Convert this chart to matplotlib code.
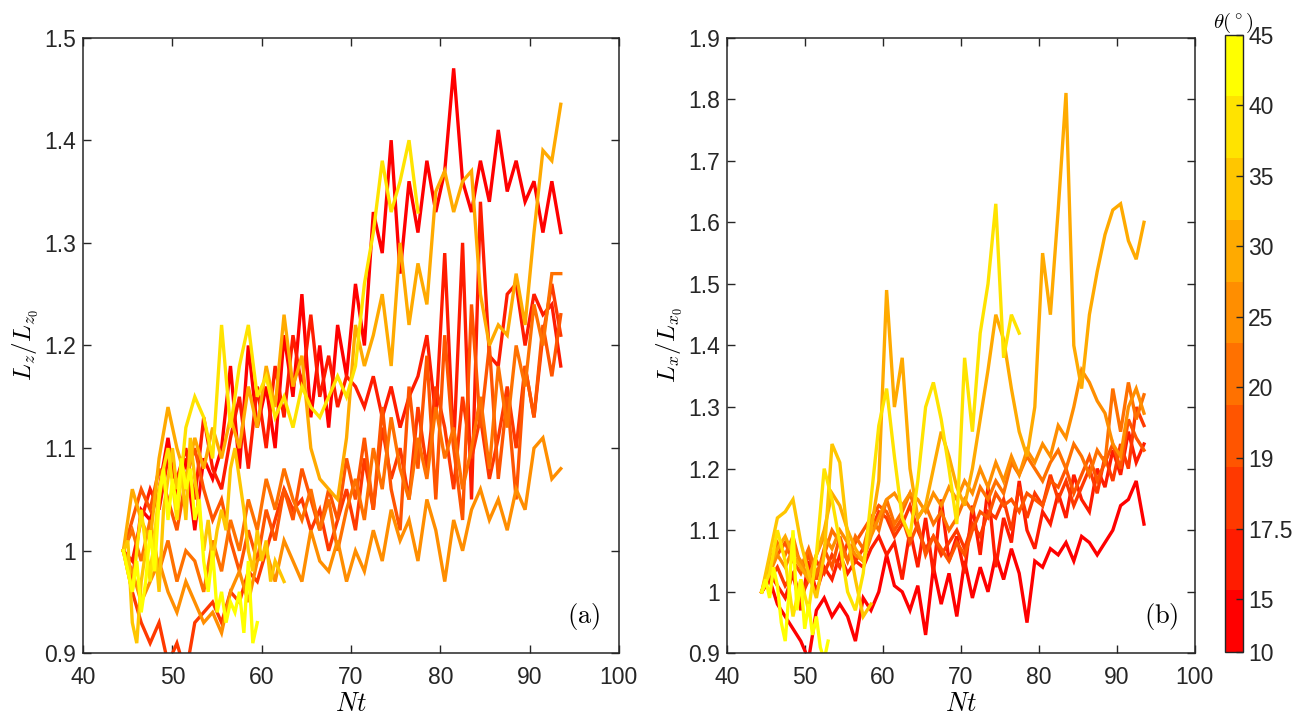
import numpy as np
import matplotlib
matplotlib.use("Agg")
import matplotlib.pyplot as plt
from matplotlib.colors import Normalize
from matplotlib.cm import ScalarMappable

plt.rcParams.update({
    "font.family": ["Liberation Sans", "DejaVu Sans"],
    "mathtext.fontset": "cm",
    "axes.linewidth": 1.1,
    "axes.edgecolor": "#262626",
    "xtick.color": "#262626",
    "ytick.color": "#262626",
})

# angles (deg) and their colorbar tick positions
ANGLES = ["10", "15", "17.5", "19", "20", "25", "30", "35", "40", "45"]
CBAR_TICKS = [10, 13, 17, 21, 25, 29, 33, 37, 41, 45]
T0 = 44.5

# ---- panel (a): L_z / L_z0 ----
a_10 = [1.00, 0.97, 1.04, 1.03, 1.06, 1.11, 1.05, 1.09, 1.02, 1.09,
        1.07, 1.10, 1.18, 1.08, 1.20, 1.12, 1.16, 1.10, 1.21, 1.15,
        1.25, 1.13, 1.20, 1.12, 1.22, 1.17, 1.26, 1.20, 1.33, 1.29,
        1.40, 1.27, 1.36, 1.31, 1.38, 1.33, 1.37, 1.47, 1.36, 1.33,
        1.38, 1.34, 1.41, 1.35, 1.38, 1.34, 1.36, 1.31, 1.36, 1.31]
a_15 = [1.00, 0.99, 1.03, 1.06, 1.04, 1.09, 1.07, 1.10, 1.05, 1.13,
        1.08, 1.06, 1.11, 1.15, 1.08, 1.16, 1.10, 1.18, 1.13, 1.21,
        1.16, 1.23, 1.15, 1.19, 1.14, 1.17, 1.16, 1.14, 1.17, 1.13,
        1.16, 1.12, 1.15, 1.17, 1.21, 1.13, 1.29, 1.10, 1.30, 1.05,
        1.34, 1.19, 1.18, 1.25, 1.26, 1.20, 1.25, 1.23, 1.24, 1.18]
a_175 = [1.00, 0.96, 0.93, 0.91, 0.93, 0.89, 0.91, 0.88, 0.93, 0.94,
         0.95, 0.93, 0.96, 0.95, 0.98, 0.97, 1.00, 1.03, 1.06, 1.04,
         1.05, 1.02, 1.04, 1.00, 1.03, 1.06, 1.02, 1.09, 1.04, 1.12,
         1.07, 1.10, 1.05, 1.14, 1.08, 1.16, 1.12, 1.06, 1.15, 1.09,
         1.13, 1.07, 1.11, 1.16, 1.10, 1.18, 1.13, 1.21, 1.26, 1.21]
a_19 = [1.00, 1.03, 1.06, 1.04, 1.08, 1.05, 1.02, 1.07, 1.10, 1.06,
        1.03, 1.05, 1.01, 0.98, 1.02, 0.99, 1.04, 1.01, 1.06, 1.03,
        1.08, 1.05, 1.02, 1.06, 1.03, 1.09, 1.05, 1.11, 1.04, 1.14,
        1.06, 1.02, 1.16, 1.08, 1.19, 1.05, 1.21, 1.10, 1.03, 1.24,
        1.12, 1.20, 1.07, 1.15, 1.05, 1.18, 1.13, 1.22, 1.17, 1.23]
a_20 = [1.00, 1.02, 0.99, 1.03, 0.98, 1.01, 0.97, 1.00, 0.99, 0.96,
        1.01, 0.98, 1.03, 1.00, 1.05, 1.02, 1.07, 1.04, 1.08, 1.05,
        1.03, 1.06, 1.02, 1.05, 1.00, 1.04, 1.07, 1.03, 1.10, 1.06,
        1.13, 1.08, 1.05, 1.11, 1.07, 1.14, 1.09, 1.12, 1.06, 1.10,
        1.15, 1.08, 1.18, 1.12, 1.20, 1.16, 1.24, 1.20, 1.27, 1.27]
a_25 = [1.00, 0.98, 0.95, 0.97, 0.99, 0.96, 0.94, 0.97, 0.95, 0.93,
        0.94, 0.92, 0.96, 0.98, 0.95, 0.99, 1.00, 0.97, 1.01, 0.99,
        0.97, 1.02, 0.99, 0.98, 1.01, 0.97, 1.00, 0.98, 1.02, 0.99,
        1.04, 1.01, 1.03, 0.99, 1.05, 1.02, 0.97, 1.03, 1.00, 1.04,
        1.06, 1.03, 1.05, 1.02, 1.06, 1.04, 1.10, 1.11, 1.07, 1.08]
a_30 = [1.00, 1.06, 1.03, 1.01, 1.09, 1.14, 1.10, 1.07, 1.11, 1.08,
        1.12, 1.09, 1.13, 1.10, 1.16, 1.12, 1.18, 1.14, 1.23, 1.16,
        1.19, 1.10, 1.07, 1.06, 1.05, 1.11, 1.22, 1.18, 1.21, 1.25,
        1.18, 1.30, 1.22, 1.28, 1.24, 1.35, 1.37, 1.33, 1.36, 1.37,
        1.25, 1.20, 1.22, 1.21, 1.27, 1.22, 1.31, 1.39, 1.38, 1.435]
a_35 = [1.00, 1.01, 0.93, 0.91, 0.97, 1.00, 0.98, 1.01, 0.96, 1.04,
        1.07, 1.10, 1.06, 1.08, 1.03, 1.11, 1.07, 1.04, 1.00, 1.03,
        0.99, 1.02, 1.04, 1.02, 1.08, 1.10, 1.07, 1.04, 1.00, 0.98,
        1.02, 0.99, 1.01, 0.97, 0.99, 0.98, 0.97]
a_40 = [1.00, 0.96, 1.04, 0.97, 1.06, 1.10, 1.03, 1.12, 1.15, 1.13,
        1.09, 1.22, 1.12, 1.18, 1.22, 1.15, 1.17, 1.13, 1.15, 1.12,
        1.16, 1.14, 1.13, 1.15, 1.17, 1.15, 1.18, 1.26, 1.31, 1.38,
        1.33, 1.36, 1.40, 1.33]
a_45 = [1.00, 0.98, 0.96, 0.99, 0.94, 0.97, 1.02, 0.98, 1.05, 1.08,
        1.03, 1.07, 1.04, 1.09, 1.06, 1.08, 1.03, 1.05, 0.99, 0.96,
        1.00, 0.94, 0.96, 0.93, 0.95, 0.94, 0.96, 0.92, 0.99, 0.91,
        0.93]

# ---- panel (b): L_x / L_x0 ----
b_10 = [1.00, 1.02, 0.98, 0.96, 0.94, 0.92, 0.89, 0.97, 0.99, 0.96,
        0.98, 0.96, 0.92, 0.99, 0.97, 1.00, 1.06, 1.01, 1.00, 0.97,
        1.01, 0.93, 1.04, 0.98, 1.03, 0.96, 1.05, 0.99, 1.04, 1.00,
        1.06, 1.02, 1.07, 1.03, 0.95, 1.05, 1.04, 1.07, 1.06, 1.08,
        1.05, 1.09, 1.08, 1.06, 1.08, 1.10, 1.14, 1.15, 1.18, 1.11]
b_15 = [1.00, 1.03, 1.01, 0.99, 1.03, 0.97, 1.05, 1.00, 1.04, 1.02,
        1.06, 1.03, 1.05, 1.04, 1.07, 1.09, 1.06, 1.08, 1.02, 1.10,
        1.04, 1.12, 1.03, 1.15, 1.05, 1.09, 1.03, 1.14, 1.06, 1.17,
        1.04, 1.12, 1.08, 1.18, 1.10, 1.07, 1.13, 1.11, 1.16, 1.12,
        1.19, 1.15, 1.13, 1.20, 1.17, 1.23, 1.19, 1.26, 1.21, 1.24]
b_175 = [1.00, 1.02, 1.04, 1.01, 1.03, 0.99, 1.02, 1.05, 1.03, 1.06,
         1.04, 1.08, 1.05, 1.07, 1.10, 1.13, 1.12, 1.09, 1.11, 1.14,
         1.10, 1.07, 1.09, 1.06, 1.08, 1.10, 1.07, 1.11, 1.09, 1.13,
         1.12, 1.15, 1.10, 1.17, 1.12, 1.16, 1.14, 1.19, 1.15, 1.18,
         1.14, 1.17, 1.20, 1.16, 1.22, 1.18, 1.24, 1.20, 1.30, 1.27]
b_19 = [1.00, 1.04, 1.06, 1.08, 1.05, 1.03, 1.06, 1.02, 1.07, 1.04,
        1.09, 1.05, 1.08, 1.10, 1.12, 1.14, 1.13, 1.10, 1.12, 1.08,
        1.11, 1.06, 1.09, 1.07, 1.05, 1.08, 1.06, 1.10, 1.13, 1.12,
        1.16, 1.14, 1.15, 1.13, 1.16, 1.15, 1.14, 1.18, 1.17, 1.20,
        1.16, 1.19, 1.22, 1.18, 1.21, 1.24, 1.20, 1.28, 1.25, 1.23]
b_20 = [1.00, 1.05, 1.08, 1.06, 1.09, 1.04, 1.07, 1.03, 1.06, 1.10,
        1.08, 1.05, 1.09, 1.07, 1.12, 1.10, 1.15, 1.11, 1.13, 1.16,
        1.12, 1.14, 1.11, 1.13, 1.10, 1.12, 1.15, 1.13, 1.17, 1.15,
        1.18, 1.16, 1.21, 1.19, 1.22, 1.20, 1.18, 1.21, 1.23, 1.20,
        1.24, 1.22, 1.19, 1.23, 1.21, 1.33, 1.26, 1.34, 1.28, 1.32]
b_25 = [1.00, 1.03, 1.06, 1.04, 1.07, 1.05, 1.02, 1.06, 1.09, 1.07,
        1.10, 1.08, 1.06, 1.05, 1.09, 1.12, 1.15, 1.16, 1.14, 1.16,
        1.15, 1.13, 1.16, 1.14, 1.17, 1.15, 1.18, 1.16, 1.20, 1.17,
        1.21, 1.18, 1.22, 1.19, 1.23, 1.21, 1.24, 1.22, 1.27, 1.25,
        1.30, 1.36, 1.34, 1.31, 1.29, 1.24, 1.22, 1.30, 1.33, 1.29]
b_30 = [1.00, 1.04, 1.07, 1.09, 1.06, 1.04, 1.02, 1.06, 1.10, 1.16,
        1.14, 1.10, 1.07, 1.05, 1.10, 1.18, 1.49, 1.30, 1.38, 1.20,
        1.12, 1.14, 1.20, 1.26, 1.22, 1.17, 1.14, 1.20, 1.28, 1.36,
        1.45, 1.41, 1.33, 1.26, 1.22, 1.30, 1.55, 1.45, 1.62, 1.81,
        1.40, 1.33, 1.45, 1.52, 1.58, 1.62, 1.63, 1.57, 1.54, 1.60]
b_35 = [1.00, 1.06, 1.12, 1.13, 1.15, 1.08, 1.03, 0.99, 1.06, 1.24,
        1.21, 1.09, 1.02, 0.96, 0.98]
b_40 = [1.00, 1.03, 1.10, 1.05, 0.96, 1.02, 0.97, 1.06, 1.20, 1.15,
        1.08, 1.00, 0.97, 1.03, 1.15, 1.27, 1.33, 1.22, 1.12, 1.09,
        1.18, 1.30, 1.34, 1.28, 1.20, 1.11, 1.38, 1.26, 1.42, 1.50,
        1.63, 1.38, 1.45, 1.42]
b_45 = [1.00, 1.02, 0.99, 1.04, 1.01, 0.95, 0.92, 1.00, 1.10, 0.97,
        1.02, 0.94, 0.98, 0.93, 0.96, 0.91, 0.89, 0.92]

# sampling step (Nt) of each series, in angle order
a_steps = [1, 1, 1, 1, 1, 1, 1, 0.5, 1, 0.5]
b_steps = [1, 1, 1, 1, 1, 1, 1, 1, 1, 0.5]
panel_a = [a_10, a_15, a_175, a_19, a_20, a_25, a_30, a_35, a_40, a_45]
panel_b = [b_10, b_15, b_175, b_19, b_20, b_25, b_30, b_35, b_40, b_45]

cmap = plt.get_cmap("autumn", len(ANGLES))
norm = Normalize(10, 45)

fig = plt.figure(figsize=(13, 7.22), dpi=100)
ax_a = fig.add_axes([0.064, 0.095, 0.412, 0.853])
ax_b = fig.add_axes([0.559, 0.095, 0.360, 0.853])
cax = fig.add_axes([0.942, 0.097, 0.014, 0.855])


def draw_panel(ax, series, steps, ylim, yticks, ylabel, tag):
    for i, (y, dt) in enumerate(zip(series, steps)):
        t = T0 + dt * np.arange(len(y))
        ax.plot(t, y, color=cmap(i), lw=2.4, solid_joinstyle="miter")
    ax.set_xlim(40, 100)
    ax.set_ylim(*ylim)
    ax.set_xticks(np.arange(40, 101, 10))
    ax.set_yticks(yticks)
    ax.set_yticklabels([f"{v:g}" for v in yticks])
    ax.tick_params(direction="in", length=6, width=1.0, labelsize=16.5,
                   top=True, right=True)
    ax.tick_params(axis="x", pad=9)
    ax.tick_params(axis="y", pad=5)
    ax.set_xlabel(r"$Nt$", fontsize=19, labelpad=2)
    ax.set_ylabel(ylabel, fontsize=18, labelpad=3)
    ax.text(0.965, 0.035, tag, transform=ax.transAxes, ha="right",
            va="bottom", fontsize=19)


draw_panel(ax_a, panel_a, a_steps, (0.9, 1.5),
           np.round(np.arange(0.9, 1.51, 0.1), 1),
           r"$L_z/L_{z_0}$", r"$\mathrm{(a)}$")
draw_panel(ax_b, panel_b, b_steps, (0.9, 1.9),
           np.round(np.arange(0.9, 1.91, 0.1), 1),
           r"$L_x/L_{x_0}$", r"$\mathrm{(b)}$")

cb = fig.colorbar(ScalarMappable(norm=norm, cmap=cmap), cax=cax,
                  ticks=CBAR_TICKS)
cb.ax.set_yticklabels(ANGLES)
cb.ax.tick_params(direction="in", length=5, width=1.0, labelsize=16.5,
                  pad=4)
cb.outline.set_linewidth(1.0)
cb.ax.set_title(r"$\theta(^\circ)$", fontsize=15, pad=5)

fig.savefig("out.png", dpi=100)
